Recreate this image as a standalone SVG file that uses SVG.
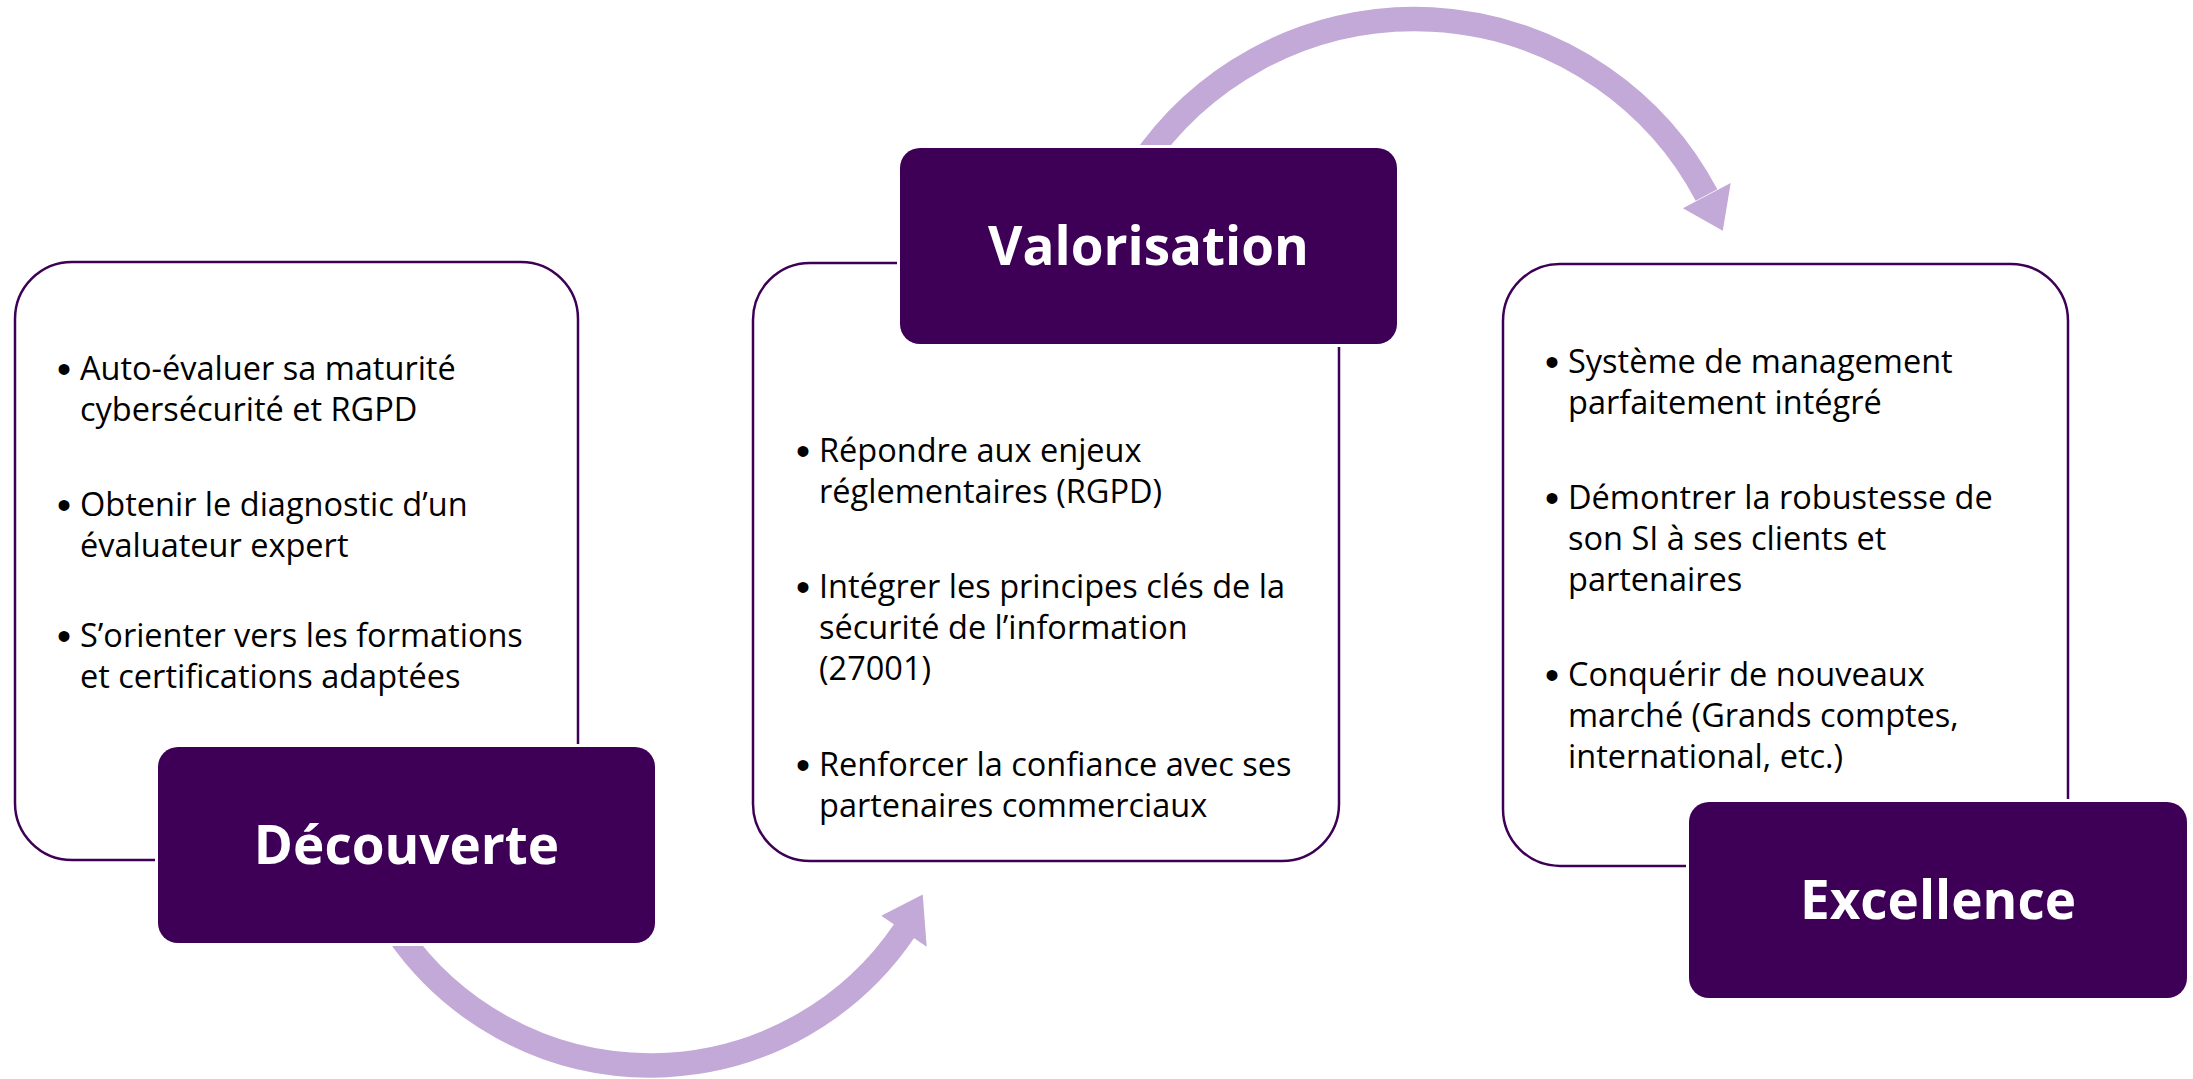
<svg xmlns="http://www.w3.org/2000/svg" width="2193" height="1079" viewBox="0 0 2193 1079">
<defs>
<style>
.panel{fill:#fff;stroke:#3D0056;stroke-width:2.5}
.head{fill:#3D0056;stroke:#fff;stroke-width:6;paint-order:stroke}
.title{font-family:"Open Sans","Liberation Sans",sans-serif;font-weight:700;font-size:53px;fill:#fff;text-anchor:middle}
.body{font-family:"Open Sans","Liberation Sans",sans-serif;font-size:32.5px;fill:#000}
.bul{font-family:"Liberation Sans",sans-serif;font-size:40px;fill:#000;text-anchor:middle}
.arc{fill:none;stroke:#C3A9D7;stroke-width:24.5}
.tip{fill:#C3A9D7}
</style>
</defs>
<rect width="2193" height="1079" fill="#fff"/>
<g id="connectors">
<path class="arc" d="M398.5,934.1 A307,307 0 0 0 904.5,930.5"/>
<polygon class="tip" points="881.3,915.8 926.7,946.8 922.7,894.6"/>
<path class="arc" d="M1140.4,165.5 A330,330 0 0 1 1706.5,195"/>
<polygon class="tip" points="1682.9,208.2 1730.7,183 1722.8,230.8"/>
</g>
<g id="node-decouverte">
<rect class="panel" x="15" y="262" width="563" height="598" rx="57"/>
<text class="bul" x="64" y="383">•</text><text class="body" x="80" y="380">Auto-évaluer sa maturité</text>
<text class="body" x="80" y="421">cybersécurité et RGPD</text>
<text class="bul" x="64" y="519">•</text><text class="body" x="80" y="516">Obtenir le diagnostic d’un</text>
<text class="body" x="80" y="557">évaluateur expert</text>
<text class="bul" x="64" y="650">•</text><text class="body" x="80" y="647">S’orienter vers les formations</text>
<text class="body" x="80" y="688">et certifications adaptées</text>
<rect class="head" x="158" y="747" width="497" height="196" rx="20"/>
<text class="title" x="406.5" y="864">Découverte</text>
</g>
<g id="node-valorisation">
<rect class="panel" x="753" y="263" width="586" height="598" rx="57"/>
<text class="bul" x="803" y="465">•</text><text class="body" x="819" y="462">Répondre aux enjeux</text>
<text class="body" x="819" y="503">réglementaires (RGPD)</text>
<text class="bul" x="803" y="601">•</text><text class="body" x="819" y="598">Intégrer les principes clés de la</text>
<text class="body" x="819" y="639">sécurité de l’information</text>
<text class="body" x="819" y="680">(27001)</text>
<text class="bul" x="803" y="779">•</text><text class="body" x="819" y="776">Renforcer la confiance avec ses</text>
<text class="body" x="819" y="817">partenaires commerciaux</text>
<rect class="head" x="900" y="148" width="497" height="196" rx="20"/>
<text class="title" x="1148.5" y="265">Valorisation</text>
</g>
<g id="node-excellence">
<rect class="panel" x="1503" y="264" width="565" height="602" rx="57"/>
<text class="bul" x="1552" y="376">•</text><text class="body" x="1568" y="373">Système de management</text>
<text class="body" x="1568" y="414">parfaitement intégré</text>
<text class="bul" x="1552" y="512">•</text><text class="body" x="1568" y="509">Démontrer la robustesse de</text>
<text class="body" x="1568" y="550">son SI à ses clients et</text>
<text class="body" x="1568" y="591">partenaires</text>
<text class="bul" x="1552" y="689">•</text><text class="body" x="1568" y="686">Conquérir de nouveaux</text>
<text class="body" x="1568" y="727">marché (Grands comptes,</text>
<text class="body" x="1568" y="768">international, etc.)</text>
<rect class="head" x="1689" y="802" width="498" height="196" rx="20"/>
<text class="title" x="1938" y="919">Excellence</text>
</g>
</svg>
